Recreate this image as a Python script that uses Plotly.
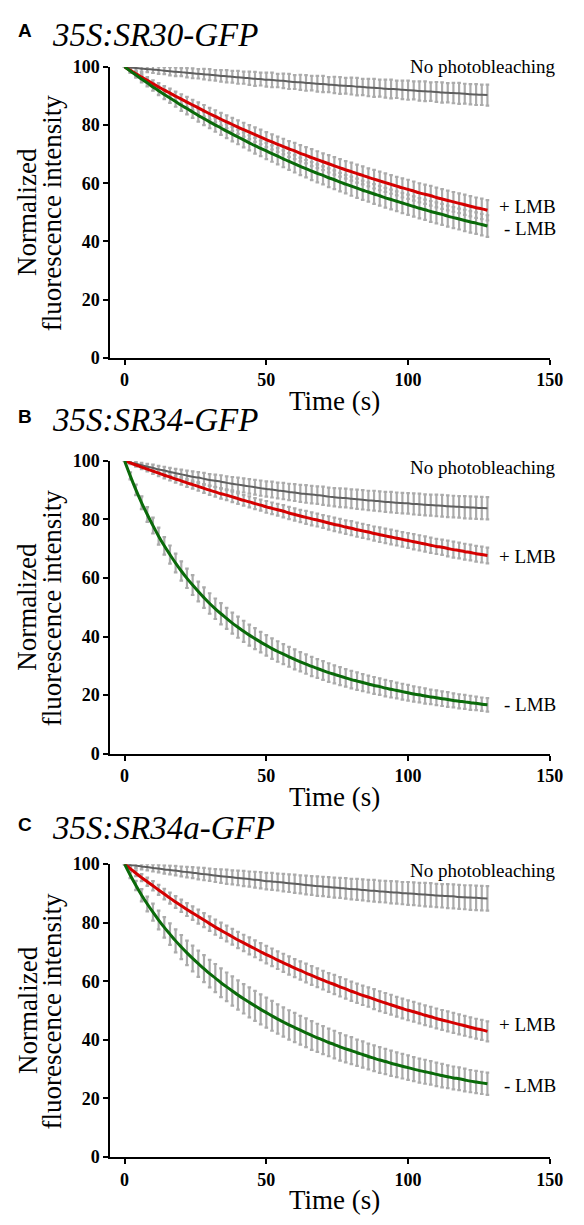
import plotly.graph_objects as go

# ---------------- data ----------------
time_s = [0, 2, 4, 6, 8, 10, 12, 14, 16, 18,
          20, 22, 24, 26, 28, 30, 32, 34, 36, 38,
          40, 42, 44, 46, 48, 50, 52, 54, 56, 58,
          60, 62, 64, 66, 68, 70, 72, 74, 76, 78,
          80, 82, 84, 86, 88, 90, 92, 94, 96, 98,
          100, 102, 104, 106, 108, 110, 112, 114, 116, 118,
          120, 122, 124, 126, 128]

panel_letters = ["A", "B", "C"]
panel_titles = ["35S:SR30-GFP", "35S:SR34-GFP", "35S:SR34a-GFP"]
series_names = ["No photobleaching", "+ LMB", "- LMB"]
x_ticks = [0, 50, 100, 150]
y_ticks = [0, 20, 40, 60, 80, 100]

# Panel A
a_nopb = [100.0, 99.8, 99.6, 99.4, 99.2, 99.1, 98.9, 98.7, 98.5, 98.3,
          98.2, 98.0, 97.8, 97.6, 97.5, 97.3, 97.1, 96.9, 96.8, 96.6,
          96.4, 96.3, 96.1, 95.9, 95.8, 95.6, 95.5, 95.3, 95.2, 95.0,
          94.8, 94.7, 94.5, 94.4, 94.2, 94.1, 93.9, 93.8, 93.6, 93.5,
          93.4, 93.2, 93.1, 92.9, 92.8, 92.7, 92.5, 92.4, 92.3, 92.1,
          92.0, 91.9, 91.7, 91.6, 91.5, 91.4, 91.2, 91.1, 91.0, 90.9,
          90.8, 90.6, 90.5, 90.4, 90.3]
a_nopb_err = [0.0, 0.8, 0.9, 1.1, 1.0, 1.2, 1.3, 1.2, 1.4, 1.5,
              1.4, 1.6, 1.7, 1.6, 1.8, 1.9, 1.8, 2.0, 2.1, 2.0,
              2.2, 2.1, 2.3, 2.4, 2.2, 2.4, 2.5, 2.3, 2.5, 2.6,
              2.4, 2.6, 2.7, 2.5, 2.7, 2.8, 2.6, 2.8, 2.9, 2.7,
              2.9, 3.0, 2.8, 3.0, 3.1, 2.9, 3.1, 3.2, 3.0, 3.2,
              3.3, 3.1, 3.3, 3.4, 3.2, 3.4, 3.5, 3.3, 3.5, 3.6,
              3.4, 3.5, 3.6, 3.5, 3.6]
a_plus = [100.0, 98.8, 97.6, 96.5, 95.4, 94.2, 93.1, 92.0, 91.0, 89.9,
          88.9, 87.9, 86.9, 85.9, 84.9, 83.9, 83.0, 82.0, 81.1, 80.2,
          79.3, 78.4, 77.6, 76.7, 75.9, 75.0, 74.2, 73.4, 72.6, 71.8,
          71.1, 70.3, 69.6, 68.8, 68.1, 67.4, 66.7, 66.0, 65.3, 64.6,
          64.0, 63.3, 62.7, 62.0, 61.4, 60.8, 60.2, 59.6, 59.0, 58.4,
          57.9, 57.3, 56.7, 56.2, 55.7, 55.1, 54.6, 54.1, 53.6, 53.1,
          52.6, 52.1, 51.6, 51.2, 50.7]
a_plus_err = [0.0, 0.6, 0.8, 1.0, 1.1, 1.2, 1.3, 1.4, 1.5, 1.6,
              1.7, 1.8, 1.8, 1.9, 2.0, 2.0, 2.1, 2.2, 2.2, 2.3,
              2.3, 2.4, 2.4, 2.5, 2.5, 2.6, 2.6, 2.6, 2.7, 2.7,
              2.8, 2.8, 2.8, 2.9, 2.9, 2.9, 3.0, 3.0, 3.0, 3.0,
              3.1, 3.1, 3.1, 3.1, 3.2, 3.2, 3.2, 3.2, 3.2, 3.3,
              3.3, 3.3, 3.3, 3.3, 3.4, 3.4, 3.4, 3.4, 3.4, 3.4,
              3.5, 3.5, 3.5, 3.5, 3.5]
a_minus = [100.0, 98.6, 97.2, 95.8, 94.5, 93.1, 91.8, 90.5, 89.3, 88.1,
           86.8, 85.7, 84.5, 83.3, 82.2, 81.1, 80.0, 79.0, 77.9, 76.9,
           75.9, 74.9, 73.9, 72.9, 72.0, 71.1, 70.2, 69.3, 68.4, 67.5,
           66.7, 65.8, 65.0, 64.2, 63.4, 62.7, 61.9, 61.2, 60.4, 59.7,
           59.0, 58.3, 57.6, 57.0, 56.3, 55.7, 55.0, 54.4, 53.8, 53.2,
           52.6, 52.0, 51.4, 50.9, 50.3, 49.8, 49.3, 48.7, 48.2, 47.7,
           47.2, 46.7, 46.3, 45.8, 45.3]
a_minus_err = [0.0, 0.7, 0.9, 1.1, 1.2, 1.3, 1.5, 1.6, 1.7, 1.8,
               1.9, 2.0, 2.0, 2.1, 2.2, 2.2, 2.3, 2.4, 2.4, 2.5,
               2.5, 2.6, 2.6, 2.7, 2.7, 2.8, 2.8, 2.8, 2.9, 2.9,
               3.0, 3.0, 3.0, 3.1, 3.1, 3.1, 3.2, 3.2, 3.2, 3.2,
               3.3, 3.3, 3.3, 3.3, 3.4, 3.4, 3.4, 3.4, 3.4, 3.5,
               3.5, 3.5, 3.5, 3.5, 3.6, 3.6, 3.6, 3.6, 3.6, 3.6,
               3.7, 3.7, 3.7, 3.7, 3.7]

# Panel B
b_nopb = [100.0, 99.5, 99.0, 98.5, 98.0, 97.6, 97.1, 96.7, 96.2, 95.8,
          95.4, 95.0, 94.6, 94.3, 93.9, 93.5, 93.2, 92.9, 92.5, 92.2,
          91.9, 91.6, 91.3, 91.0, 90.7, 90.4, 90.2, 89.9, 89.7, 89.4,
          89.2, 88.9, 88.7, 88.5, 88.3, 88.1, 87.8, 87.6, 87.4, 87.3,
          87.1, 86.9, 86.7, 86.5, 86.4, 86.2, 86.0, 85.9, 85.7, 85.6,
          85.5, 85.3, 85.2, 85.0, 84.9, 84.8, 84.7, 84.5, 84.4, 84.3,
          84.2, 84.1, 84.0, 83.9, 83.8]
b_nopb_err = [0.0, 0.5, 0.7, 0.8, 1.0, 1.1, 1.2, 1.3, 1.4, 1.5,
              1.6, 1.7, 1.8, 1.9, 2.0, 2.0, 2.1, 2.2, 2.2, 2.3,
              2.4, 2.4, 2.5, 2.5, 2.6, 2.6, 2.7, 2.7, 2.8, 2.8,
              2.9, 2.9, 3.0, 3.0, 3.0, 3.1, 3.1, 3.1, 3.2, 3.2,
              3.2, 3.3, 3.3, 3.3, 3.4, 3.4, 3.4, 3.5, 3.5, 3.5,
              3.5, 3.6, 3.6, 3.6, 3.6, 3.7, 3.7, 3.7, 3.7, 3.7,
              3.8, 3.8, 3.8, 3.8, 3.8]
b_plus = [100.0, 99.3, 98.6, 97.9, 97.2, 96.5, 95.8, 95.1, 94.5, 93.8,
          93.2, 92.5, 91.9, 91.3, 90.6, 90.0, 89.4, 88.8, 88.3, 87.7,
          87.1, 86.5, 86.0, 85.4, 84.9, 84.3, 83.8, 83.3, 82.8, 82.2,
          81.7, 81.2, 80.7, 80.2, 79.8, 79.3, 78.8, 78.3, 77.9, 77.4,
          77.0, 76.5, 76.1, 75.7, 75.2, 74.8, 74.4, 74.0, 73.6, 73.2,
          72.8, 72.4, 72.0, 71.6, 71.2, 70.8, 70.5, 70.1, 69.7, 69.4,
          69.0, 68.7, 68.3, 68.0, 67.7]
b_plus_err = [0.0, 0.4, 0.6, 0.7, 0.8, 0.9, 1.0, 1.1, 1.2, 1.2,
              1.3, 1.4, 1.4, 1.5, 1.5, 1.6, 1.6, 1.7, 1.7, 1.8,
              1.8, 1.8, 1.9, 1.9, 1.9, 2.0, 2.0, 2.0, 2.1, 2.1,
              2.1, 2.1, 2.2, 2.2, 2.2, 2.2, 2.3, 2.3, 2.3, 2.3,
              2.4, 2.4, 2.4, 2.4, 2.4, 2.5, 2.5, 2.5, 2.5, 2.5,
              2.5, 2.6, 2.6, 2.6, 2.6, 2.6, 2.6, 2.7, 2.7, 2.7,
              2.7, 2.7, 2.7, 2.7, 2.7]
b_minus = [100.0, 94.9, 90.1, 85.7, 81.7, 77.9, 74.3, 71.0, 68.0, 65.1,
           62.4, 59.9, 57.6, 55.4, 53.3, 51.3, 49.5, 47.8, 46.2, 44.6,
           43.2, 41.8, 40.5, 39.3, 38.1, 37.0, 35.9, 34.9, 34.0, 33.1,
           32.2, 31.4, 30.6, 29.8, 29.1, 28.4, 27.7, 27.1, 26.5, 25.9,
           25.3, 24.8, 24.3, 23.8, 23.3, 22.9, 22.4, 22.0, 21.6, 21.2,
           20.8, 20.4, 20.1, 19.7, 19.4, 19.1, 18.8, 18.5, 18.2, 17.9,
           17.7, 17.4, 17.2, 16.9, 16.7]
b_minus_err = [0.0, 1.2, 1.8, 2.2, 2.5, 2.7, 2.9, 3.0, 3.1, 3.2,
               3.3, 3.3, 3.4, 3.4, 3.5, 3.5, 3.5, 3.6, 3.6, 3.6,
               3.6, 3.6, 3.6, 3.6, 3.5, 3.5, 3.5, 3.5, 3.4, 3.4,
               3.4, 3.3, 3.3, 3.3, 3.2, 3.2, 3.2, 3.1, 3.1, 3.0,
               3.0, 3.0, 2.9, 2.9, 2.9, 2.8, 2.8, 2.8, 2.7, 2.7,
               2.7, 2.6, 2.6, 2.6, 2.5, 2.5, 2.5, 2.5, 2.4, 2.4,
               2.4, 2.4, 2.3, 2.3, 2.3]

# Panel C
c_nopb = [100.0, 99.7, 99.5, 99.2, 99.0, 98.7, 98.5, 98.2, 98.0, 97.8,
          97.5, 97.3, 97.1, 96.8, 96.6, 96.4, 96.1, 95.9, 95.7, 95.5,
          95.3, 95.1, 94.9, 94.7, 94.5, 94.2, 94.1, 93.9, 93.7, 93.5,
          93.3, 93.1, 92.9, 92.7, 92.5, 92.4, 92.2, 92.0, 91.9, 91.7,
          91.5, 91.4, 91.2, 91.0, 90.9, 90.7, 90.6, 90.4, 90.3, 90.1,
          90.0, 89.9, 89.7, 89.6, 89.5, 89.3, 89.2, 89.1, 89.0, 88.8,
          88.7, 88.6, 88.5, 88.4, 88.3]
c_nopb_err = [0.0, 0.6, 0.8, 1.0, 1.1, 1.2, 1.3, 1.4, 1.5, 1.6,
              1.7, 1.8, 1.9, 2.0, 2.1, 2.1, 2.2, 2.3, 2.4, 2.4,
              2.5, 2.6, 2.6, 2.7, 2.8, 2.8, 2.9, 2.9, 3.0, 3.0,
              3.1, 3.1, 3.2, 3.2, 3.3, 3.3, 3.4, 3.4, 3.4, 3.5,
              3.5, 3.6, 3.6, 3.6, 3.7, 3.7, 3.7, 3.8, 3.8, 3.8,
              3.9, 3.9, 3.9, 4.0, 4.0, 4.0, 4.0, 4.1, 4.1, 4.1,
              4.1, 4.2, 4.2, 4.2, 4.2]
c_plus = [100.0, 98.5, 96.9, 95.4, 94.0, 92.6, 91.2, 89.8, 88.4, 87.1,
          85.8, 84.5, 83.3, 82.1, 80.9, 79.7, 78.5, 77.4, 76.3, 75.2,
          74.1, 73.1, 72.1, 71.1, 70.1, 69.1, 68.2, 67.2, 66.3, 65.4,
          64.5, 63.7, 62.8, 62.0, 61.2, 60.4, 59.6, 58.9, 58.1, 57.4,
          56.6, 55.9, 55.2, 54.6, 53.9, 53.2, 52.6, 52.0, 51.3, 50.7,
          50.1, 49.6, 49.0, 48.4, 47.9, 47.3, 46.8, 46.3, 45.8, 45.3,
          44.8, 44.3, 43.8, 43.4, 42.9]
c_plus_err = [0.0, 0.7, 1.0, 1.2, 1.4, 1.6, 1.7, 1.8, 1.9, 2.0,
              2.1, 2.2, 2.3, 2.4, 2.4, 2.5, 2.6, 2.6, 2.7, 2.7,
              2.8, 2.8, 2.9, 2.9, 2.9, 3.0, 3.0, 3.0, 3.1, 3.1,
              3.1, 3.1, 3.2, 3.2, 3.2, 3.2, 3.2, 3.3, 3.3, 3.3,
              3.3, 3.3, 3.3, 3.3, 3.4, 3.4, 3.4, 3.4, 3.4, 3.4,
              3.4, 3.4, 3.4, 3.4, 3.4, 3.4, 3.4, 3.4, 3.4, 3.4,
              3.4, 3.4, 3.4, 3.4, 3.4]
c_minus = [100.0, 96.2, 92.7, 89.4, 86.4, 83.6, 80.9, 78.4, 76.1, 73.8,
           71.7, 69.7, 67.8, 66.0, 64.3, 62.6, 61.1, 59.5, 58.1, 56.7,
           55.3, 54.0, 52.8, 51.6, 50.4, 49.3, 48.2, 47.1, 46.1, 45.1,
           44.2, 43.3, 42.4, 41.5, 40.7, 39.9, 39.1, 38.4, 37.6, 36.9,
           36.3, 35.6, 35.0, 34.3, 33.7, 33.1, 32.6, 32.0, 31.5, 31.0,
           30.5, 30.0, 29.5, 29.1, 28.7, 28.2, 27.8, 27.4, 27.0, 26.7,
           26.3, 25.9, 25.6, 25.3, 25.0]
c_minus_err = [0.0, 1.0, 1.6, 2.1, 2.5, 2.9, 3.2, 3.5, 3.7, 3.9,
               4.1, 4.2, 4.4, 4.5, 4.6, 4.7, 4.8, 4.9, 4.9, 5.0,
               5.0, 5.0, 5.1, 5.1, 5.1, 5.1, 5.1, 5.0, 5.0, 5.0,
               5.0, 4.9, 4.9, 4.9, 4.8, 4.8, 4.7, 4.7, 4.7, 4.6,
               4.6, 4.5, 4.5, 4.4, 4.4, 4.4, 4.3, 4.3, 4.2, 4.2,
               4.2, 4.1, 4.1, 4.1, 4.0, 4.0, 4.0, 3.9, 3.9, 3.9,
               3.9, 3.8, 3.8, 3.8, 3.8]

# label vertical positions (data units)
label_y = [
    [100.0, 51.9, 44.5],
    [97.7, 67.5, 16.8],
    [97.7, 45.1, 24.4],
]

panels = [
    [(a_nopb, a_nopb_err), (a_plus, a_plus_err), (a_minus, a_minus_err)],
    [(b_nopb, b_nopb_err), (b_plus, b_plus_err), (b_minus, b_minus_err)],
    [(c_nopb, c_nopb_err), (c_plus, c_plus_err), (c_minus, c_minus_err)],
]

# ---------------- style / layout ----------------
PAGE_W, PAGE_H = 584, 1225
OFF = 8  # default page body margin
W, H = PAGE_W - OFF, PAGE_H - OFF


def px_x(px):
    return (px - OFF) / W


def px_y(py):
    return 1 - (py - OFF) / H


line_colors = ["#5e5e5e", "#d50000", "#0a6a0a"]
line_widths = [2, 3, 3]
err_color = "#ababab"
SERIF = "Liberation Serif, Times New Roman, serif"
SANS = "Liberation Sans, Arial, sans-serif"

x_dom = [px_x(112.8), px_x(562.3)]
panel_px = [(57.7, 353.5), (458.3, 756.0), (868.3, 1166.0)]
letter_px = [21, 413, 828]

fig = go.Figure()

for p in range(3):
    xa = "x" if p == 0 else f"x{p+1}"
    ya = "y" if p == 0 else f"y{p+1}"
    for s in range(3):
        vals, errs = panels[p][s]
        fig.add_trace(go.Scatter(
            x=time_s, y=vals, xaxis=xa, yaxis=ya, mode="markers",
            marker=dict(size=1, color="rgba(0,0,0,0)"),
            error_y=dict(type="data", array=errs, visible=True,
                         color=err_color, thickness=2.2, width=1.8),
            showlegend=False, hoverinfo="skip", cliponaxis=False,
        ))
    for s in range(3):
        vals, errs = panels[p][s]
        fig.add_trace(go.Scatter(
            x=time_s, y=vals, xaxis=xa, yaxis=ya, mode="lines",
            line=dict(color=line_colors[s], width=line_widths[s], shape="spline"),
            name=series_names[s], showlegend=False, cliponaxis=False,
        ))

layout = dict(
    width=W, height=H, autosize=False,
    margin=dict(l=0, r=0, t=0, b=0),
    paper_bgcolor="white", plot_bgcolor="white",
    showlegend=False,
)

axis_common = dict(
    showline=True, linecolor="black", linewidth=2,
    ticks="outside", ticklen=5, tickwidth=2, tickcolor="black",
    showgrid=False, zeroline=False,
    tickfont=dict(family=SERIF, size=18, color="black", weight="bold"),
)

annotations = []
for p in range(3):
    top_px, bot_px = panel_px[p]
    y_dom = [px_y(bot_px), px_y(top_px)]
    xk = "xaxis" if p == 0 else f"xaxis{p+1}"
    yk = "yaxis" if p == 0 else f"yaxis{p+1}"
    xa = "x" if p == 0 else f"x{p+1}"
    ya = "y" if p == 0 else f"y{p+1}"
    layout[xk] = dict(axis_common, domain=x_dom, range=[-5, 150],
                      tickvals=x_ticks, anchor=ya)
    layout[yk] = dict(axis_common, domain=y_dom, range=[0, 100],
                      tickvals=y_ticks, anchor=xa)

    annotations.append(dict(
        xref="paper", yref="paper", x=px_x(25), y=px_y(letter_px[p]),
        xanchor="center", yanchor="middle", showarrow=False,
        text="<b>%s</b>" % panel_letters[p],
        font=dict(family=SANS, size=19, color="black")))
    annotations.append(dict(
        xref="paper", yref="paper", x=px_x(51), y=px_y(letter_px[p] + 4),
        xanchor="left", yanchor="middle", showarrow=False,
        text="<i>%s</i>" % panel_titles[p],
        font=dict(family=SERIF, size=33, color="black")))
    annotations.append(dict(
        xref="paper", yref="paper", x=px_x(342), y=px_y(bot_px + 44),
        xanchor="center", yanchor="middle", showarrow=False, text="Time (s)",
        font=dict(family=SERIF, size=27, color="black")))
    mid = px_y((top_px + bot_px) / 2)
    annotations.append(dict(
        xref="paper", yref="paper", x=px_x(28), y=mid, textangle=-90,
        xanchor="center", yanchor="middle", showarrow=False, text="Normalized",
        font=dict(family=SERIF, size=27, color="black")))
    annotations.append(dict(
        xref="paper", yref="paper", x=px_x(53), y=mid, textangle=-90,
        xanchor="center", yanchor="middle", showarrow=False,
        text="fluorescence intensity",
        font=dict(family=SERIF, size=27, color="black")))
    for s in range(3):
        annotations.append(dict(
            xref="paper", yref=ya, x=px_x(571), y=label_y[p][s],
            xanchor="right", yanchor="middle", showarrow=False,
            text=series_names[s],
            font=dict(family=SERIF, size=19, color="black")))

layout["annotations"] = annotations
fig.update_layout(**layout)

fig.write_html("out.html")
